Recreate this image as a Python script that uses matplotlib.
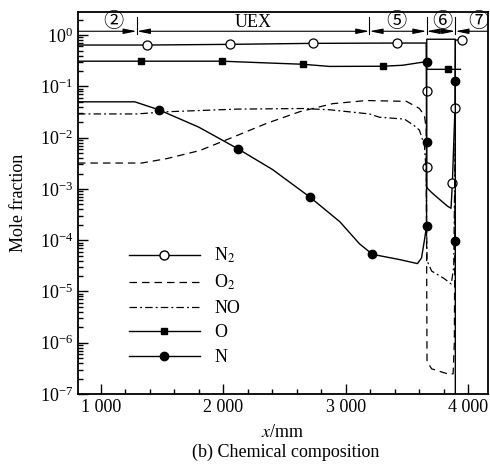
import numpy as np
import matplotlib.pyplot as plt
from matplotlib.lines import Line2D
from matplotlib.ticker import FuncFormatter, MultipleLocator, LogLocator, NullFormatter

plt.rcParams['font.family'] = ['Liberation Serif', 'Noto Sans CJK SC', 'DejaVu Sans']
plt.rcParams['mathtext.fontset'] = 'stix'
plt.rcParams['font.size'] = 13

# N2 (solid, open circles)
n2_x = [813, 1375, 2052, 2729, 3413, 3655, 3660, 3670, 3700, 3780, 3830, 3858, 3869, 3890, 3893, 3955]
n2_y = [0.64, 0.64, 0.66, 0.69, 0.70, 0.70, 1.1e-3, 1.0e-3, 8.5e-4, 5.8e-4, 4.6e-4, 4.2e-4, 1.3e-3, 0.038, 0.80, 0.80]
n2_mx = [1375, 2052, 2729, 3413, 3662, 3662, 3869, 3893, 3951]
n2_my = [0.64, 0.66, 0.69, 0.70, 0.081, 0.0027, 0.0013, 0.038, 0.80]

# O2 (dashed)
o2_x = [813, 1334, 1538, 1807, 2027, 2353, 2622, 2891, 3168, 3494, 3600, 3641, 3655, 3662, 3700, 3780, 3850, 3875, 3885, 3893]
o2_y = [3.2e-3, 3.2e-3, 3.9e-3, 5.6e-3, 9.1e-3, 0.019, 0.032, 0.046, 0.053, 0.051, 0.037, 0.027, 0.015, 4.3e-7, 3.1e-7, 2.7e-7, 2.4e-7, 2.5e-7, 1e-6, 0.02]

# NO (dash-dot)
no_x = [813, 1293, 1538, 2108, 2646, 2866, 3192, 3274, 3478, 3559, 3600, 3641, 3655, 3662, 3700, 3800, 3860, 3880, 3893]
no_y = [0.029, 0.029, 0.032, 0.036, 0.037, 0.035, 0.029, 0.025, 0.023, 0.017, 0.014, 0.007, 2.2e-3, 4e-5, 2.5e-5, 1.8e-5, 1.4e-5, 3e-5, 0.02]

# O (solid, filled squares)
o_x = [813, 1326, 1986, 2300, 2647, 2866, 3299, 3462, 3625, 3656, 3660, 3935]
o_y = [0.31, 0.31, 0.31, 0.29, 0.27, 0.245, 0.247, 0.258, 0.296, 0.31, 0.215, 0.215]
o_mx = [1326, 1986, 2647, 3299, 3837]
o_my = [0.31, 0.31, 0.27, 0.247, 0.215]

# N (solid, filled circles)
n_x = [813, 1277, 1473, 1800, 2117, 2400, 2704, 2950, 3111, 3217, 3437, 3584, 3617, 3641, 3658, 3660, 3893, 3893]
n_y = [0.05, 0.05, 0.035, 0.016, 6.1e-3, 2.4e-3, 7e-4, 2.3e-4, 8.5e-5, 5.3e-5, 4.2e-5, 3.5e-5, 4.5e-5, 1.0e-4, 1.9e-4, 0.83, 0.83, 1e-9]
n_mx = [1473, 2117, 2704, 3217, 3658, 3658, 3658, 3893, 3893]
n_my = [0.035, 6.1e-3, 7e-4, 5.3e-5, 1.9e-4, 8.1e-3, 0.30, 0.125, 9.6e-5]

zone_edges = [813, 1293, 3192, 3658, 3893, 4160]
zone_labels = ['②', 'UEX', '⑤', '⑥', '⑦']
zone_label_x = [1098, 2239, 3413, 3788, 4081]

fig = plt.figure(figsize=(4.9, 4.68), dpi=100)
ax = fig.add_axes([0.159, 0.158, 0.837, 0.816])

ax.plot(n2_x, n2_y, color='k', lw=1.0)
ax.plot(n2_mx, n2_my, ls='none', marker='o', mfc='white', mec='k', ms=6.5, mew=0.9)
ax.plot(o2_x, o2_y, color='k', lw=0.9, ls=(0, (6, 4)))
ax.plot(no_x, no_y, color='k', lw=0.9, ls=(0, (6, 2.5, 1.5, 2.5)))
ax.plot(o_x, o_y, color='k', lw=1.0)
ax.plot(o_mx, o_my, ls='none', marker='s', color='k', ms=4.5)
ax.plot(n_x, n_y, color='k', lw=1.0)
ax.plot(n_mx, n_my, ls='none', marker='o', color='k', ms=6)

ax.set_yscale('log')
ax.set_xlim(813, 4160)
ax.set_ylim(1e-7, 2.8)

ax.xaxis.set_major_locator(MultipleLocator(1000))
ax.xaxis.set_minor_locator(MultipleLocator(200))
ax.xaxis.set_major_formatter(FuncFormatter(lambda v, p: f'{int(v):,}'.replace(',', ' ')))
ax.yaxis.set_major_locator(LogLocator(base=10, numticks=20))
ax.yaxis.set_minor_locator(LogLocator(base=10, subs=np.arange(2, 10), numticks=20))
ax.yaxis.set_minor_formatter(NullFormatter())
ax.tick_params(which='both', direction='in', top=False, right=False, width=1)
ax.tick_params(which='major', length=7, labelsize=13)
ax.tick_params(which='minor', length=3.5)
for s in ax.spines.values():
    s.set_linewidth(1.3)

ax.set_ylabel('Mole fraction', fontsize=13)
ax.yaxis.set_label_coords(-0.125, 0.5)
ax.set_xlabel('$x$/mm', fontsize=13)
ax.xaxis.set_label_coords(0.5, -0.078)
fig.text(0.583, 0.034, '(b) Chemical composition', ha='center', va='center', fontsize=13)

# zone annotations along the top
trans = ax.get_xaxis_transform()
styles = ['-|>'] + ['<|-|>'] * 3 + ['<|-']
for i in range(len(zone_labels)):
    ax.annotate('', xy=(zone_edges[i + 1], 0.95), xytext=(zone_edges[i], 0.95),
                xycoords=trans, textcoords=trans,
                arrowprops=dict(arrowstyle=styles[i] + ',head_length=0.6,head_width=0.12',
                                color='k', lw=0.8, shrinkA=0, shrinkB=0))
    ax.text(zone_label_x[i], 0.974, zone_labels[i], transform=trans, ha='center', va='center',
            fontsize=13 if zone_labels[i] == 'UEX' else 14.5)
for e in zone_edges[1:-1]:
    ax.plot([e, e], [0.942, 0.987], transform=trans, color='k', lw=0.8)

handles = [
    Line2D([], [], color='k', lw=1.0, marker='o', mfc='white', mec='k', ms=6.5),
    Line2D([], [], color='k', lw=0.9, ls=(0, (6, 4))),
    Line2D([], [], color='k', lw=0.9, ls=(0, (6, 2.5, 1.5, 2.5))),
    Line2D([], [], color='k', lw=1.0, marker='s', ms=4.5),
    Line2D([], [], color='k', lw=1.0, marker='o', ms=6),
]
labels = ['N$_2$', 'O$_2$', 'NO', 'O', 'N']
ax.legend(handles, labels, loc='upper left', bbox_to_anchor=(0.125, 0.388), frameon=False,
          handlelength=3.9, handletextpad=0.8, labelspacing=0.42, borderpad=0, borderaxespad=0,
          numpoints=1, fontsize=13)

fig.savefig('out.png', dpi=100)
